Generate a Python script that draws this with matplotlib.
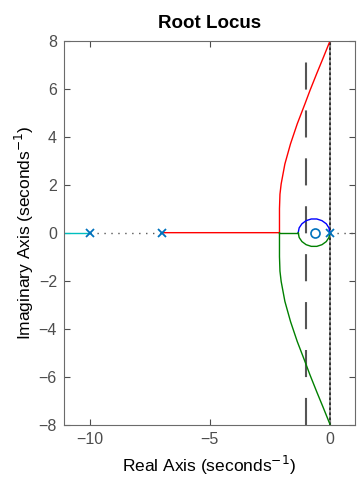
import numpy as np
from matplotlib import pyplot as plt

plt.rcParams['font.family'] = ['Liberation Sans', 'DejaVu Sans']

# poles / zero of the open loop system
poles = [-10, -7, 0]
zeros = [-0.6]

# branch: upper (red) branch, real / imag parts
red_re = [-7.0, -2.1, -2.1, -2.08, -2.03, -1.875, -1.64, -1.36,
          -1.04, -0.83, -0.55, -0.27, 0.0]
red_im = [0.0, 0.0, 1.0, 1.6, 2.03, 2.86, 3.70, 4.53,
          5.36, 5.92, 6.62, 7.3, 7.97]

# small loop around the zero (blue upper, green lower)
loop_re = [0.0, -0.04, -0.15, -0.33, -0.545, -0.775, -0.99, -1.165, -1.28, -1.32]
loop_im = [0.0, 0.2, 0.37, 0.5, 0.57, 0.57, 0.5, 0.37, 0.2, 0.0]

# cyan branch on the far left
cyan_re = [-11.1, -10.0]

fig = plt.figure(figsize=(3.57, 4.94), dpi=100)
ax = fig.add_axes([0.179, 0.140, 0.815, 0.778])

gray = '#555555'
ax.axvline(-1, color=gray, lw=1.5, dashes=(13, 10))
ax.axvline(0, color='#888888', lw=1.3)
ax.axvline(0, color='#222222', lw=1.2, ls=(0, (1.5, 1.5)))
ax.plot([-10, -7], [0, 0], color=gray, lw=1, ls=(0, (1, 4)))
ax.plot([0, 1.1], [0, 0], color=gray, lw=1, ls=(0, (1, 4)))

ax.plot(cyan_re, [0, 0], color='#00bfbf', lw=1)
ax.plot(red_re, red_im, color='red', lw=1)
ax.plot([-2.1, -1.32], [0, 0], color='green', lw=1)
ax.plot(red_re[1:], -np.array(red_im[1:]), color='green', lw=1)
ax.plot(loop_re, loop_im, color='blue', lw=1)
ax.plot(loop_re, -np.array(loop_im), color='green', lw=1)

ax.plot(poles, [0] * len(poles), 'x', color='#0072bd', ms=6, mew=1.3)
ax.plot(zeros, [0], 'o', mfc='none', color='#0072bd', ms=6.5, mew=1.2)

ax.set_xlim(-11.08, 1.04)
ax.set_ylim(-8, 8)
ax.set_xticks([-10, -5, 0])
ax.set_yticks(range(-8, 9, 2))
ax.tick_params(direction='in', top=True, right=True, labelsize=11.5,
               labelcolor='#4d4d4d', color='#4d4d4d', length=4, pad=5)
for s in ax.spines.values():
    s.set_color('#6b6b6b')

ax.set_xlabel('Real Axis (seconds$^{-1}$)', fontsize=12.5, labelpad=5)
ax.set_ylabel('Imaginary Axis (seconds$^{-1}$)', fontsize=12.5, labelpad=2)
ax.set_title('Root Locus', fontsize=13.5, fontweight='bold', pad=9)

fig.savefig('out.png', dpi=100)
